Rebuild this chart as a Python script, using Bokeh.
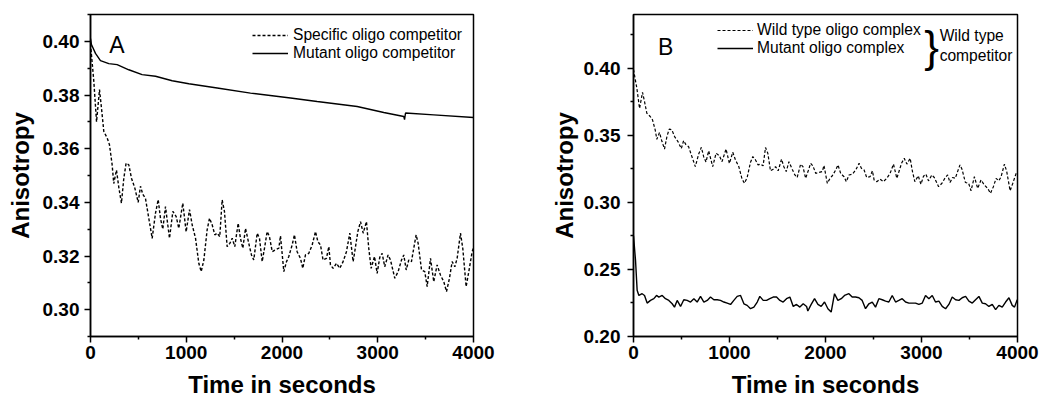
from bokeh.plotting import figure
from bokeh.layouts import row
from bokeh.models import (FixedTicker, NumeralTickFormatter, Legend, LegendItem,
                          Label, Range1d, ColumnDataSource)
from bokeh.embed import file_html
from bokeh.resources import INLINE

FONT = "Liberation Sans"

# ---------------- data ----------------
# Panel A / B dashed: specific (wild type) oligo competitor
time_specific = [0, 35, 63, 94, 115, 139, 174, 198, 226, 243,
                 271, 296, 323, 348, 372, 400, 428, 463, 498, 522,
                 546, 574, 609, 644, 679, 707, 731, 755, 783, 825,
                 860, 895, 922, 964, 999, 1034, 1062, 1097, 1131, 1156,
                 1184, 1218, 1243, 1271, 1298, 1323, 1350, 1375, 1399, 1427,
                 1455, 1480, 1507, 1542, 1566, 1591, 1619, 1653, 1681, 1705,
                 1741, 1765, 1793, 1820, 1845, 1869, 1898, 1925, 1967, 1984,
                 2019, 2047, 2071, 2106, 2130, 2158, 2193, 2217, 2245, 2280,
                 2315, 2350, 2374, 2402, 2429, 2464, 2489, 2506, 2534, 2569,
                 2603, 2638, 2673, 2708, 2743, 2768, 2792, 2820, 2848, 2882,
                 2906, 2931, 2966, 2994, 3021, 3046, 3073, 3108, 3133, 3178,
                 3213, 3248, 3272, 3297, 3324, 3352, 3376, 3401, 3422, 3457,
                 3491, 3516, 3551, 3585, 3620, 3655, 3690, 3718, 3749, 3777,
                 3805, 3829, 3864, 3888, 3923, 3951, 3986, 4000]
aniso_specific = [0.399, 0.385, 0.370, 0.382, 0.375, 0.3664, 0.364, 0.3615, 0.354, 0.347,
                  0.352, 0.3455, 0.3397, 0.349, 0.3546, 0.354, 0.349, 0.3453, 0.340, 0.346,
                  0.343, 0.3415, 0.334, 0.3266, 0.336, 0.341, 0.334, 0.330, 0.3384, 0.3266,
                  0.3366, 0.3347, 0.3303, 0.3397, 0.329, 0.3373, 0.3316, 0.3266, 0.3173, 0.3142,
                  0.3185, 0.3297, 0.3341, 0.3316, 0.3279, 0.3285, 0.3272, 0.3409, 0.3366, 0.3235,
                  0.3247, 0.3266, 0.3235, 0.3322, 0.3266, 0.3229, 0.3303, 0.3247, 0.3204, 0.3185,
                  0.3285, 0.3266, 0.3179, 0.3235, 0.3291, 0.3272, 0.3216, 0.3222, 0.3229, 0.3275,
                  0.3142, 0.3179, 0.3198, 0.3241, 0.3279, 0.3216, 0.3191, 0.3154, 0.3204, 0.3210,
                  0.3241, 0.3291, 0.3254, 0.3241, 0.3185, 0.3191, 0.3235, 0.3167, 0.3154, 0.3173,
                  0.3154, 0.3179, 0.3216, 0.3285, 0.3179, 0.3235, 0.3291, 0.3328, 0.3285, 0.3328,
                  0.3229, 0.3154, 0.3198, 0.3135, 0.3195, 0.3210, 0.3160, 0.3204, 0.3185, 0.3117,
                  0.3142, 0.3185, 0.3204, 0.3148, 0.3185, 0.3179, 0.3229, 0.3279, 0.3247, 0.3148,
                  0.3142, 0.3086, 0.3191, 0.3104, 0.3167, 0.3129, 0.3104, 0.3067, 0.3117, 0.3179,
                  0.3160, 0.3191, 0.3285, 0.3229, 0.3086, 0.3142, 0.3216, 0.3230]

# Panel A solid: mutant oligo competitor
time_mutant_comp = [0, 10, 52, 104, 191, 278, 400, 539, 679, 853, 1027, 1323, 1671,
                    2089, 2367, 2785, 3063, 3272, 3280, 3290, 3585, 4000]
aniso_mutant_comp = [0.401, 0.3988, 0.3955, 0.3928, 0.3917, 0.3913, 0.3894, 0.3876, 0.3870,
                     0.3853, 0.3842, 0.3826, 0.3807, 0.3789, 0.3776, 0.3757, 0.3735, 0.3720,
                     0.3708, 0.3733, 0.3726, 0.3716]

# Panel B solid: mutant oligo complex
time_mutant_complex = [0, 21, 38, 56, 90, 115, 142, 177, 212, 240, 264, 299, 333, 368, 403, 427,
                       455, 490, 524, 559, 594, 629, 663, 698, 733, 768, 802, 837, 872, 906, 941,
                       976, 1011, 1045, 1080, 1115, 1150, 1184, 1219, 1254, 1289, 1316, 1351, 1386,
                       1420, 1455, 1490, 1525, 1559, 1594, 1629, 1664, 1698, 1733, 1768, 1803, 1816,
                       1851, 1886, 1921, 1955, 1990, 2025, 2059, 2094, 2129, 2164, 2198, 2244, 2278,
                       2313, 2348, 2382, 2417, 2452, 2487, 2521, 2556, 2591, 2626, 2660, 2695, 2730,
                       2764, 2799, 2834, 2869, 2903, 2938, 2973, 3008, 3042, 3077, 3112, 3146, 3181,
                       3216, 3251, 3285, 3320, 3355, 3390, 3424, 3459, 3494, 3529, 3563, 3598, 3633,
                       3667, 3702, 3737, 3772, 3806, 3841, 3876, 3911, 3945, 3969, 3997]
aniso_mutant_complex = [0.275, 0.2568, 0.2344, 0.2306, 0.2319, 0.2306, 0.2249, 0.2269, 0.2282,
                        0.2306, 0.2294, 0.2306, 0.2282, 0.2269, 0.2244, 0.2219, 0.2269, 0.2224,
                        0.2274, 0.2269, 0.2257, 0.2282, 0.2257, 0.2299, 0.2257, 0.2269, 0.2294,
                        0.2274, 0.2274, 0.2269, 0.2257, 0.2249, 0.2239, 0.2269, 0.2299, 0.2306,
                        0.2244, 0.2232, 0.2207, 0.2219, 0.2257, 0.2299, 0.2269, 0.2269, 0.2282,
                        0.2294, 0.2294, 0.2269, 0.2257, 0.2282, 0.2294, 0.2224, 0.2239, 0.2219,
                        0.2244, 0.2224, 0.2190, 0.2239, 0.2282, 0.2239, 0.2224, 0.2257, 0.2207,
                        0.2182, 0.2319, 0.2269, 0.2282, 0.2306, 0.2319, 0.2294, 0.2294, 0.2289,
                        0.2269, 0.2207, 0.2244, 0.2257, 0.2219, 0.2282, 0.2274, 0.2264, 0.2257,
                        0.2306, 0.2257, 0.2269, 0.2282, 0.2257, 0.2249, 0.2249, 0.2249, 0.2239,
                        0.2249, 0.2306, 0.2282, 0.2306, 0.2257, 0.2264, 0.2224, 0.2207, 0.2239,
                        0.2294, 0.2274, 0.2269, 0.2289, 0.2299, 0.2264, 0.2249, 0.2274, 0.2299,
                        0.2249, 0.2244, 0.2224, 0.2239, 0.2200, 0.2232, 0.2219, 0.2257, 0.2289,
                        0.2232, 0.2219, 0.2274]

x_major_ticks = [0, 1000, 2000, 3000, 4000]
x_minor_ticks = [500, 1500, 2500, 3500]
ya_major_ticks = [0.30, 0.32, 0.34, 0.36, 0.38, 0.40]
ya_minor_ticks = [0.29, 0.31, 0.33, 0.35, 0.37, 0.39, 0.41]
yb_major_ticks = [0.20, 0.25, 0.30, 0.35, 0.40]
yb_minor_ticks = [0.225, 0.275, 0.325, 0.375, 0.425]

x_title = "Time in seconds"
y_title = "Anisotropy"
legend_a = ["Specific oligo competitor", "Mutant oligo competitor"]
legend_b = ["Wild type oligo complex", "Mutant oligo complex"]


def style(p, ymaj, ymin, ylab_standoff, ymaj_standoff):
    p.grid.visible = False
    p.outline_line_color = "black"
    p.outline_line_width = 1.5
    p.outline_line_alpha = 1
    p.background_fill_color = "white"
    p.border_fill_color = "white"
    p.xaxis.ticker = FixedTicker(ticks=x_major_ticks, minor_ticks=x_minor_ticks)
    p.yaxis.ticker = FixedTicker(ticks=ymaj, minor_ticks=ymin)
    p.yaxis.formatter = NumeralTickFormatter(format="0.00")
    p.xaxis.axis_label = x_title
    p.yaxis.axis_label = y_title
    for ax in (p.xaxis[0], p.yaxis[0]):
        ax.axis_line_width = 1.5
        ax.axis_line_color = "black"
        ax.major_tick_line_width = 1.5
        ax.minor_tick_line_width = 1.5
        ax.major_tick_out = 6
        ax.major_tick_in = 0
        ax.minor_tick_out = 3
        ax.minor_tick_in = 0
        ax.major_label_text_font = FONT
        ax.major_label_text_font_style = "bold"
        ax.major_label_text_font_size = "19px"
        ax.major_label_text_color = "black"
        ax.axis_label_text_font = FONT
        ax.axis_label_text_font_style = "bold"
        ax.axis_label_text_font_size = "24px"
        ax.axis_label_text_color = "black"
    p.xaxis.major_label_standoff = 3
    p.xaxis.axis_label_standoff = 9
    p.yaxis.major_label_standoff = ymaj_standoff
    p.yaxis.axis_label_standoff = ylab_standoff


def style_legend(lg):
    lg.border_line_color = None
    lg.background_fill_alpha = 0
    lg.padding = 0
    lg.margin = 0
    lg.spacing = 0
    lg.glyph_width = 36
    lg.glyph_height = 18
    lg.label_height = 18
    lg.label_standoff = 5
    lg.label_text_font = FONT
    lg.label_text_font_size = "15.6px"
    lg.label_text_color = "black"


# ---------------- panel A ----------------
pA = figure(frame_width=383, frame_height=322, output_backend="svg", toolbar_location=None,
            x_range=Range1d(0, 4000), y_range=Range1d(0.29, 0.41),
            min_border_left=90, min_border_right=47, min_border_top=13, min_border_bottom=66)
style(pA, ya_major_ticks, ya_minor_ticks, 6, 5)
src_a1 = ColumnDataSource(dict(t=time_specific, v=aniso_specific))
src_a2 = ColumnDataSource(dict(t=time_mutant_comp, v=aniso_mutant_comp))
ra1 = pA.line("t", "v", source=src_a1, line_color="black", line_width=1.4, line_dash="3 2")
ra2 = pA.line("t", "v", source=src_a2, line_color="black", line_width=1.4)
lgA = Legend(items=[LegendItem(label=legend_a[0], renderers=[ra1]),
                    LegendItem(label=legend_a[1], renderers=[ra2])],
             location=(162, 274))
style_legend(lgA)
pA.add_layout(lgA)
pA.add_layout(Label(x=195, y=0.3987, text="A", text_font=FONT, text_font_size="23px",
                    text_color="black", text_baseline="alphabetic", text_align="left"))

# ---------------- panel B ----------------
pB = figure(frame_width=384, frame_height=322, output_backend="svg", toolbar_location=None,
            x_range=Range1d(0, 4000), y_range=Range1d(0.20, 0.44),
            min_border_left=113, min_border_right=22, min_border_top=14, min_border_bottom=65)
style(pB, yb_major_ticks, yb_minor_ticks, 3, 7)
src_b1 = ColumnDataSource(dict(t=time_specific, v=aniso_specific))
src_b2 = ColumnDataSource(dict(t=time_mutant_complex, v=aniso_mutant_complex))
rb1 = pB.line("t", "v", source=src_b1, line_color="black", line_width=1.2, line_dash="3 2")
rb2 = pB.line("t", "v", source=src_b2, line_color="black", line_width=1.4)
lgB = Legend(items=[LegendItem(label=legend_b[0], renderers=[rb1]),
                    LegendItem(label=legend_b[1], renderers=[rb2])],
             location=(84, 279))
style_legend(lgB)
lgB.label_standoff = 4
pB.add_layout(lgB)
pB.add_layout(Label(x=255, y=0.4157, text="B", text_font=FONT, text_font_size="23px",
                    text_color="black", text_baseline="alphabetic", text_align="left"))
pB.add_layout(Label(x=3105, y=0.4164, text="}", text_font=FONT, text_font_size="44px",
                    text_color="black", text_baseline="middle", text_align="center"))
pB.add_layout(Label(x=3189, y=0.4246, text="Wild type", text_font=FONT, text_font_size="15.6px",
                    text_color="black", text_baseline="middle", text_align="left"))
pB.add_layout(Label(x=3189, y=0.4097, text="competitor", text_font=FONT, text_font_size="15.6px",
                    text_color="black", text_baseline="middle", text_align="left"))

layout = row(pA, pB)
open("out.html", "w").write(file_html(layout, INLINE))
